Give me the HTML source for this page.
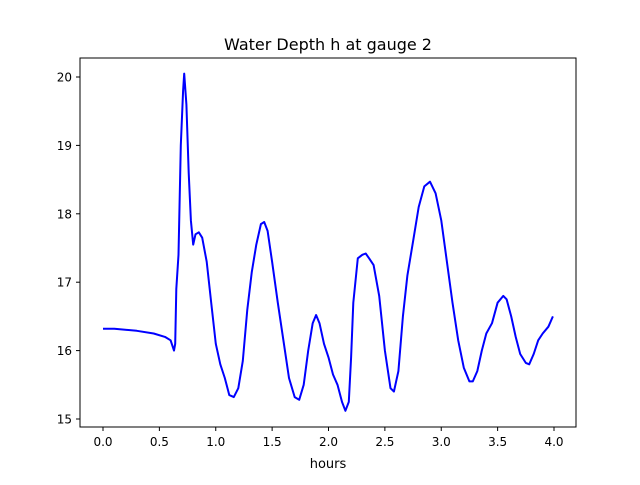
<!DOCTYPE html>
<html><head><meta charset="utf-8"><style>
body{margin:0;background:#fff;}
svg text{font-family:"DejaVu Sans","Liberation Sans",sans-serif;fill:#000;}
</style></head><body>
<svg id="chart" width="640" height="480" xmlns="http://www.w3.org/2000/svg">
<rect width="640" height="480" fill="#fff"/>
<text x="328" y="50" font-size="16" text-anchor="middle">Water Depth h at gauge 2</text>
<g id="ticks"></g>
<polyline id="series" fill="none" stroke="#0000ff" stroke-width="2" stroke-linejoin="round"/>
<rect x="80" y="58" width="496" height="369" fill="none" stroke="#000" stroke-width="1"/>
<text x="328" y="468" font-size="13" text-anchor="middle">hours</text>
</svg>
<script>
const hours=[0,0.1,0.3,0.45,0.55,0.6,0.63,0.64,0.65,0.67,0.69,0.71,0.72,0.74,0.76,0.78,0.8,0.82,0.85,0.88,0.92,0.96,1.0,1.04,1.08,1.12,1.16,1.2,1.24,1.28,1.32,1.36,1.4,1.43,1.46,1.5,1.55,1.6,1.65,1.7,1.74,1.78,1.82,1.86,1.89,1.92,1.96,2.0,2.04,2.08,2.12,2.15,2.18,2.2,2.22,2.26,2.3,2.33,2.36,2.4,2.45,2.5,2.55,2.58,2.62,2.66,2.7,2.75,2.8,2.85,2.9,2.95,3.0,3.05,3.1,3.15,3.2,3.25,3.28,3.32,3.36,3.4,3.45,3.5,3.55,3.58,3.62,3.66,3.7,3.75,3.78,3.82,3.86,3.9,3.95,3.99];
const depth=[16.32,16.32,16.29,16.25,16.2,16.15,16.0,16.1,16.9,17.4,19.0,19.8,20.05,19.6,18.6,17.9,17.55,17.7,17.73,17.65,17.3,16.7,16.1,15.8,15.6,15.35,15.32,15.45,15.85,16.6,17.15,17.55,17.85,17.88,17.75,17.3,16.7,16.15,15.6,15.32,15.28,15.5,16.0,16.4,16.52,16.4,16.1,15.9,15.65,15.5,15.25,15.12,15.25,15.9,16.7,17.35,17.4,17.42,17.35,17.25,16.8,16.0,15.45,15.4,15.7,16.5,17.1,17.6,18.1,18.4,18.47,18.3,17.9,17.3,16.7,16.15,15.75,15.55,15.55,15.7,16.0,16.25,16.4,16.7,16.8,16.75,16.5,16.2,15.95,15.82,15.8,15.95,16.15,16.25,16.35,16.5];
const xTicks=[0,0.5,1,1.5,2,2.5,3,3.5,4];
const xTickLabels=["0.0","0.5","1.0","1.5","2.0","2.5","3.0","3.5","4.0"];
const yTicks=[15,16,17,18,19,20];
const yTickLabels=["15","16","17","18","19","20"];
const sx=v=>103+v*112.75;
const sy=v=>419-(v-15)*68.4;
const NS="http://www.w3.org/2000/svg";
const g=document.getElementById('ticks');
function mk(tag,attrs){const e=document.createElementNS(NS,tag);for(const k in attrs)e.setAttribute(k,attrs[k]);g.appendChild(e);return e;}
xTicks.forEach((t,i)=>{
 const l=mk('line',{x1:sx(t),x2:sx(t),y1:427,y2:431,stroke:'#000'});
 
 
 const tx=mk('text',{x:sx(t),y:446,'font-size':12,'text-anchor':'middle'});
 tx.textContent=xTickLabels[i];
 
 
});
yTicks.forEach((t,i)=>{
 const l=mk('line',{x1:76,x2:80,y1:sy(t),y2:sy(t),stroke:'#000'});
 
 
 const tx=mk('text',{x:72,y:sy(t)+4.5,'font-size':12,'text-anchor':'end'});
 tx.textContent=yTickLabels[i];
 
 
});
document.getElementById('series').setAttribute('points',hours.map((h,i)=>sx(h).toFixed(1)+','+sy(depth[i]).toFixed(1)).join(' '));
</script>
</body></html>
